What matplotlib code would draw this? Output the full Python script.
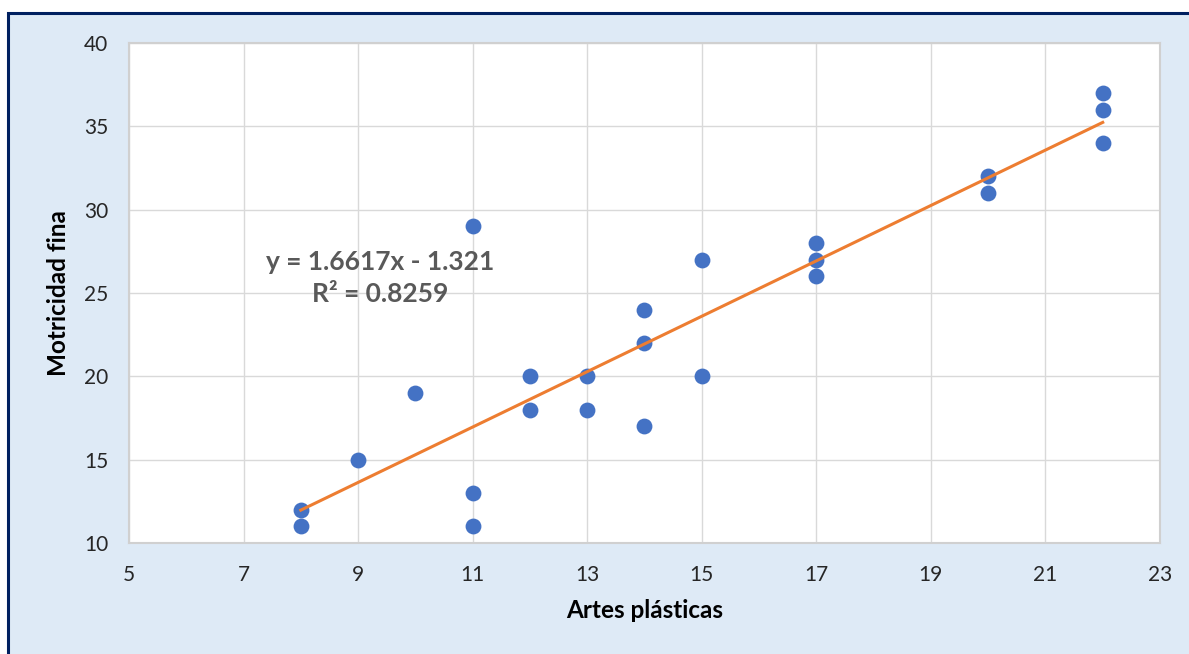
import matplotlib
matplotlib.use("Agg")
import matplotlib.pyplot as plt
from matplotlib.patches import Rectangle
import numpy as np

# Data
artes = [8, 8, 9, 10, 11, 11, 11, 12, 12, 13, 13, 14, 14, 14, 15, 15, 17, 17, 17, 20, 20, 22, 22, 22]
motricidad = [12, 11, 15, 19, 29, 13, 11, 20, 18, 20, 18, 24, 22, 17, 27, 20, 28, 27, 26, 32, 31, 37, 36, 34]
slope = 1.6617
intercept = -1.321
r2 = 0.8259
x_ticks = [5, 7, 9, 11, 13, 15, 17, 19, 21, 23]
y_ticks = [10, 15, 20, 25, 30, 35, 40]

plt.rcParams['font.family'] = ['Lato', 'DejaVu Sans']

fig = plt.figure(figsize=(11.89, 6.54), dpi=100, facecolor='white')
bg = Rectangle((8/1189, -0.5), 2.0, 1 - 13/654 + 0.5, transform=fig.transFigure,
               facecolor='#DEEAF6', edgecolor='#002060', linewidth=2.2, zorder=-10,
               clip_on=False)
fig.add_artist(bg)

ax = fig.add_axes([129/1189, 1 - 543/654, (1160 - 129)/1189, (543 - 43)/654])
ax.set_zorder(1)
ax.set_facecolor('white')
ax.set_xlim(5, 23)
ax.set_ylim(10, 40)
ax.set_xticks(x_ticks)
ax.set_yticks(y_ticks)
ax.grid(True, color='#D9D9D9', linewidth=1.0)
ax.set_axisbelow(True)
for s in ax.spines.values():
    s.set_color('#D0D0D0')
    s.set_linewidth(1.5)
ax.tick_params(axis='both', length=0, labelsize=15, colors='#262626')
ax.tick_params(axis='x', pad=16)
ax.tick_params(axis='y', pad=15)

ax.scatter(artes, motricidad, s=130, color='#4472C4', zorder=3, linewidths=0)

xa = np.array([min(artes), max(artes)])
ax.plot(xa, slope * xa + intercept, color='#ED7D31', linewidth=2.2, zorder=4)

ax.text(9.38, 25.9, f"y = {slope}x - {abs(intercept)}\nR² = {r2}", ha='center', va='center',
        fontsize=19, fontweight='bold', color='#595959', linespacing=1.45, zorder=5)

ax.set_xlabel('Artes plásticas', fontsize=17.5, fontweight='bold', color='#000000', labelpad=10)
ax.set_ylabel('Motricidad fina', fontsize=17.5, fontweight='bold', color='#000000', labelpad=10)

fig.savefig('out.png', dpi=100, facecolor='white')
